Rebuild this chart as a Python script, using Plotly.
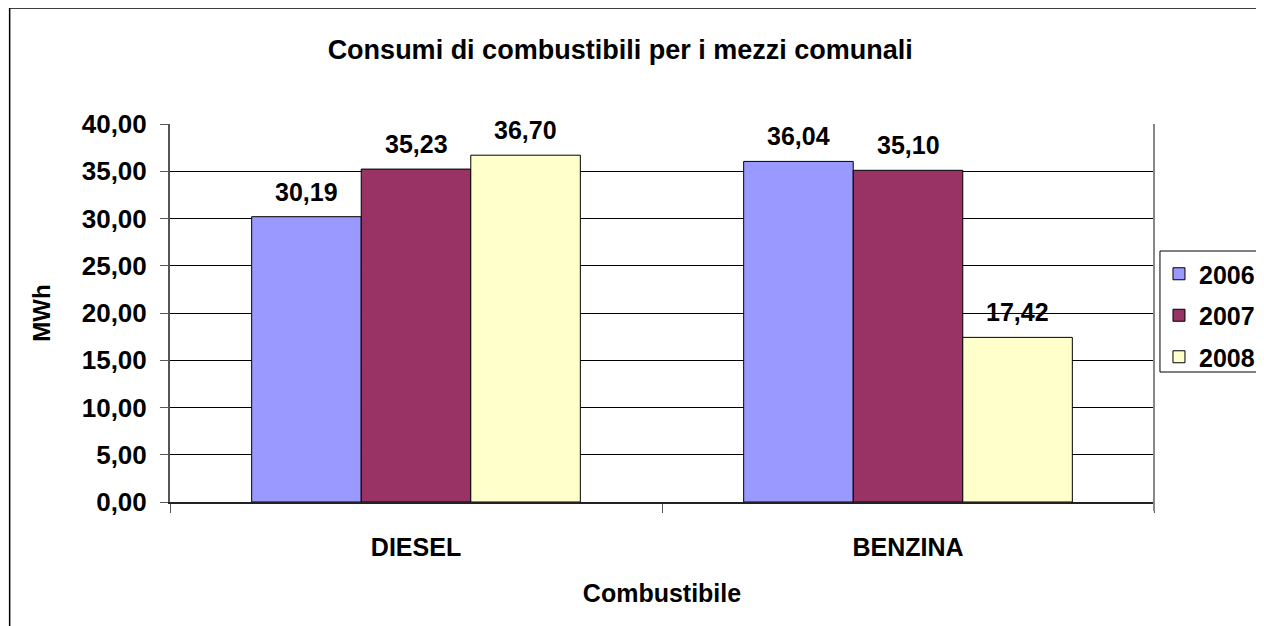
import plotly.graph_objects as go

categories = ["DIESEL", "BENZINA"]
years = ["2006", "2007", "2008"]
values_2006 = [30.19, 36.04]
values_2007 = [35.23, 35.10]
values_2008 = [36.70, 17.42]
colors = ["#9999FF", "#993366", "#FFFFCC"]

FONT = "Liberation Sans, Arial, sans-serif"
W, H = 1264, 626
OFF = 8  # browser body margin
# target plot area in screen pixels
SL, SR, ST, SB = 170, 1158, 124, 502
L, R, T, B = SL - OFF, SR - OFF, ST - OFF, SB - OFF

def px_x(px):
    return (px - SL) / (SR - SL)

def px_y(py):
    return (SB - py) / (SB - ST)

BARGAP = 0.332
cat_w = (SR - SL) / len(categories)
bar_w = cat_w * (1 - BARGAP) / len(years)

fig = go.Figure()
series = [values_2006, values_2007, values_2008]
for i, (yr, vals, col) in enumerate(zip(years, series, colors)):
    fig.add_trace(go.Bar(
        name=yr, x=categories, y=vals, legendgroup=yr,
        marker=dict(color=col, line=dict(color="black", width=1)),
    ))
    for c, v in zip(categories, vals):
        fig.add_annotation(
            x=c, y=v, xref="x", yref="y", text=f"<b>{v:.2f}</b>".replace(".", ","),
            showarrow=False, yanchor="bottom", xanchor="center",
            xshift=(i - 1) * bar_w, yshift=9,
            font=dict(family=FONT, size=25, color="black"),
        )

fig.update_layout(
    width=W, height=H,
    margin=dict(l=L, r=W - R, t=T, b=H - B),
    paper_bgcolor="white", plot_bgcolor="white",
    separators=",.",
    barmode="group", bargap=BARGAP, bargroupgap=0,
    font=dict(family=FONT, color="black"),
    title=dict(text="<b>Consumi di combustibili per i mezzi comunali</b>",
               font=dict(family=FONT, size=27, color="black"),
               x=px_x(622), xref="paper", xanchor="center",
               y=1 - (50 - OFF) / H, yref="container", yanchor="middle"),
    showlegend=True,
    legend=dict(x=px_x(1163), xanchor="left", y=px_y(251), yanchor="top",
                bgcolor="rgba(0,0,0,0)", borderwidth=0,
                font=dict(family=FONT, size=25, color="black", weight="bold"),
                traceorder="grouped", tracegroupgap=6),
)

fig.update_yaxes(
    range=[0, 40], dtick=5, tickformat=".2f",
    showgrid=True, gridcolor="#000000", gridwidth=1,
    showline=True, linecolor="#555555", linewidth=2,
    ticks="outside", ticklen=8, tickcolor="#555555",
    ticklabelstandoff=8,
    tickfont=dict(family=FONT, size=26, color="black", weight="bold"),
    title=dict(text="<b>MWh</b>", font=dict(family=FONT, size=24, color="black"), standoff=24),
    zeroline=False,
)
fig.update_xaxes(
    showline=True, linecolor="#222222", linewidth=2,
    ticks="outside", ticklen=9, tickcolor="#555555", tickson="boundaries",
    tickfont=dict(family=FONT, size=25, color="black", weight="bold"),
    ticklabelstandoff=22,
    title=dict(text="<b>Combustibile</b>", font=dict(family=FONT, size=25, color="black"), standoff=24),
)

# right plot-area border
fig.add_shape(type="line", xref="x domain", yref="y domain", x0=1, x1=1, y0=px_y(511), y1=1,
              line=dict(color="#888888", width=2))
# legend box
fig.add_shape(type="rect", xref="paper", yref="paper",
              x0=px_x(1164), x1=px_x(1300), y0=px_y(372), y1=px_y(251),
              line=dict(color="black", width=1))
# outer chart border
fig.add_shape(type="rect", xref="paper", yref="paper",
              x0=px_x(9), x1=px_x(1300), y0=px_y(700), y1=px_y(8),
              line=dict(color="black", width=1.5))

fig.write_html("out.html")
